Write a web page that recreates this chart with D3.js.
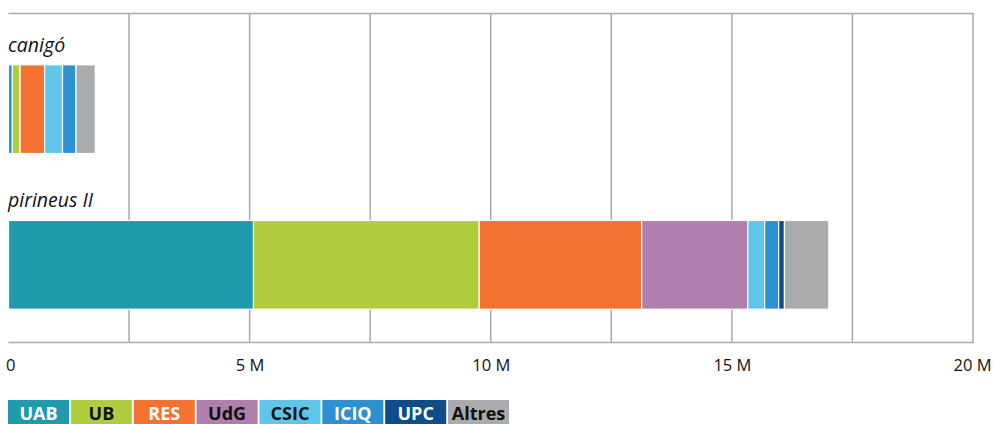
<!DOCTYPE html>
<html>
<head>
<meta charset="utf-8">
<script src="https://cdnjs.cloudflare.com/ajax/libs/d3/7.8.5/d3.min.js"></script>
<style>
  body { margin: 0; background: #fff; }
  svg { display: block; font-family: "Open Sans", "Noto Sans", sans-serif; }
</style>
</head>
<body>
<div id="chart"></div>
<script>
// values in millions
var machines = ["canigó", "pirineus II"];
var groups = ["UAB", "UB", "RES", "UdG", "CSIC", "ICIQ", "UPC", "Altres"];
var colors = ["#1f9aad", "#afcd3f", "#f37231", "#b07fad", "#5fc6ea", "#2d90d0", "#0e4c8a", "#a9abac"];
var darkText = ["UB", "UdG", "CSIC", "Altres"];
var canigo = [0.08, 0.16, 0.51, 0, 0.37, 0.28, 0, 0.40];
var pirineus = [5.08, 4.68, 3.37, 2.20, 0.35, 0.29, 0.12, 0.92];
var xTicks = [0, 5, 10, 15, 20];

var width = 993, height = 424;
var margin = {top: 13.5, right: 20, bottom: 82, left: 8.5};
var x = d3.scaleLinear().domain([0, 20]).range([margin.left, 973]);
var y = d3.scaleBand()
    .domain(machines)
    .range([margin.top, height - margin.bottom])
    .paddingInner(0.43)
    .paddingOuter(0.27)
    .align(0.61);

var rows = machines.map(function(m, i) {
    var vals = i === 0 ? canigo : pirineus;
    var row = {machine: m};
    groups.forEach(function(g, j) { row[g] = vals[j]; });
    return row;
});
var series = d3.stack().keys(groups)(rows);

var svg = d3.select("#chart").append("svg")
    .attr("width", width)
    .attr("height", height);

// grid
var gridTicks = d3.range(0, 20.01, 2.5);
svg.append("g").selectAll("line")
    .data(gridTicks.slice(1))
    .join("line")
    .attr("x1", function(d) { return x(d); })
    .attr("x2", function(d) { return x(d); })
    .attr("y1", margin.top)
    .attr("y2", height - margin.bottom + 0.5)
    .attr("stroke", "#aaa")
    .attr("stroke-width", 1.5);

svg.append("g").selectAll("line")
    .data([margin.top, height - margin.bottom + 0.5])
    .join("line")
    .attr("x1", x(0))
    .attr("x2", x(20) + 0.75)
    .attr("y1", function(d) { return d; })
    .attr("y2", function(d) { return d; })
    .attr("stroke", "#aaa")
    .attr("stroke-width", 1.5);

// bars
svg.append("g").selectAll("g")
    .data(series)
    .join("g")
    .attr("fill", function(d, i) { return colors[i]; })
  .selectAll("rect")
    .data(function(d) { return d.filter(function(p) { return p[1] - p[0] > 0; }); })
    .join("rect")
    .attr("x", function(d) { return x(d[0]); })
    .attr("width", function(d) { return x(d[1]) - x(d[0]); })
    .attr("y", function(d) { return y(d.data.machine); })
    .attr("height", y.bandwidth())
    .attr("stroke", "#fff")
    .attr("stroke-width", 1.2);

// machine labels
svg.append("g").selectAll("text")
    .data(machines)
    .join("text")
    .attr("x", 8)
    .attr("y", function(d) { return y(d) - 13; })
    .attr("font-size", 19.5)
    .attr("font-style", "italic")
    .attr("fill", "#111")
    .text(function(d) { return d; });

// x axis labels
var xAxis = d3.axisBottom(x)
    .tickValues(xTicks)
    .tickSize(0)
    .tickPadding(0)
    .tickFormat(function(d) { return d === 0 ? "0" : d + " M"; });
var ax = svg.append("g")
    .attr("transform", "translate(0,359)")
    .call(xAxis);
ax.select(".domain").remove();
ax.selectAll("text")
    .attr("font-size", 16.5)
    .attr("font-family", "'Open Sans', sans-serif")
    .attr("fill", "#111")
    .attr("dy", "0.71em")
    .attr("text-anchor", function(d) { return d === 0 ? "start" : d === 20 ? "end" : "middle"; })
    .attr("dx", function(d) { return d === 0 ? -3 : d === 20 ? 18 : 0; });

// legend
var legendStep = 62.86;
var leg = svg.append("g").attr("transform", "translate(8,400)")
    .selectAll("g")
    .data(groups)
    .join("g")
    .attr("transform", function(d, i) { return "translate(" + (i * legendStep) + ",0)"; });
leg.append("rect")
    .attr("width", legendStep - 1.8)
    .attr("height", 24)
    .attr("fill", function(d, i) { return colors[i]; });
leg.append("text")
    .attr("x", (legendStep - 1.8) / 2)
    .attr("y", 19.5)
    .attr("text-anchor", "middle")
    .attr("font-size", 18)
    .attr("font-weight", "bold")
    .attr("fill", function(d) { return darkText.indexOf(d) >= 0 ? "#111" : "#fff"; })
    .text(function(d) { return d; });
</script>
</body>
</html>
